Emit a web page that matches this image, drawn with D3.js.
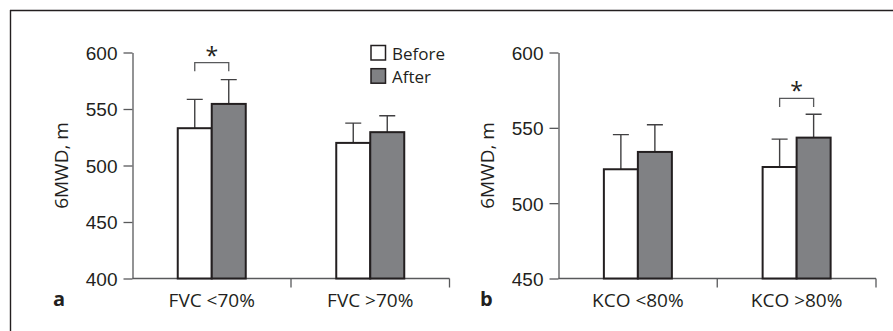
<!DOCTYPE html>
<html>
<head>
<meta charset="utf-8">
<script src="https://cdn.jsdelivr.net/npm/d3@7"></script>
<style>
  body { margin: 0; background: #fff; }
  svg { display: block; font-family: "Open Sans", sans-serif; }
  .tick text { font-size: 19px; fill: #231f20; }
</style>
</head>
<body>
<svg id="chart" width="893" height="331"></svg>
<script>
// panel a
var catsA = ['FVC <70%', 'FVC >70%'];
var beforeA = [533, 520];
var afterA = [554.5, 529.5];
var beforeErrA = [558.5, 537.5];
var afterErrA = [576, 544];
var ticksA = [400, 450, 500, 550, 600];

// panel b
var catsB = ['KCO <80%', 'KCO >80%'];
var beforeB = [522.5, 524];
var afterB = [534, 543.5];
var beforeErrB = [545.5, 542.5];
var afterErrB = [552, 559];
var ticksB = [450, 500, 550, 600];

var seriesNames = ['Before', 'After'];
var fills = ['#ffffff', '#808184'];

var svg = d3.select('#chart');

// frame: only top and left edge
svg.append('line').attr('x1', 10).attr('x2', 893).attr('y1', 10.5).attr('y2', 10.5)
  .attr('stroke', '#231f20').attr('stroke-width', 1.4);
svg.append('line').attr('x1', 10.5).attr('x2', 10.5).attr('y1', 10).attr('y2', 331)
  .attr('stroke', '#231f20').attr('stroke-width', 1.4);

function panel(opts) {
  var g = svg.append('g');
  var y = d3.scaleLinear().domain(opts.domain).range([278.5, 52.5]);
  var x0 = d3.scaleBand().domain(opts.cats).range([opts.left, opts.right]);
  var x1 = d3.scaleBand().domain(seriesNames).range([0, 68]);

  // y axis
  var yAxis = g.append('g').attr('class', 'y')
    .attr('transform', 'translate(' + opts.left + ',0)')
    .call(d3.axisLeft(y).tickValues(opts.ticks).tickSize(9).tickPadding(6).tickSizeOuter(0));
  yAxis.select('.domain').attr('stroke', '#58595b').attr('stroke-width', 1.3);
  yAxis.selectAll('.tick line').attr('stroke', '#58595b').attr('stroke-width', 1.3);
  yAxis.selectAll('.tick text').attr('dy', '0.36em');

  // x axis, ticks at band edges
  var xg = g.append('g').attr('transform', 'translate(0,' + y(opts.domain[0]) + ')');
  xg.append('line').attr('x1', opts.left).attr('x2', opts.right)
    .attr('stroke', '#58595b').attr('stroke-width', 1.3);
  var edges = opts.cats.map(function(c) { return x0(c) + x0.bandwidth(); });
  xg.selectAll('.edge').data(edges).enter().append('line')
    .attr('x1', function(d) { return d; }).attr('x2', function(d) { return d; })
    .attr('y1', 0).attr('y2', 9)
    .attr('stroke', '#58595b').attr('stroke-width', 1.3);
  xg.selectAll('.lab').data(opts.cats).enter().append('text')
    .attr('x', function(d) { return x0(d) + x0.bandwidth() / 2; })
    .attr('y', 28)
    .attr('text-anchor', 'middle')
    .attr('font-size', 19).attr('fill', '#231f20')
    .text(function(d) { return d; });

  // bars + error bars
  var rows = opts.cats.map(function(c, i) {
    return [
      { cat: c, s: 'Before', v: opts.before[i], e: opts.beforeErr[i] },
      { cat: c, s: 'After', v: opts.after[i], e: opts.afterErr[i] }
    ];
  });
  var grp = g.selectAll('.grp').data(rows).enter().append('g')
    .attr('transform', function(d) {
      return 'translate(' + (x0(d[0].cat) + x0.bandwidth() / 2 - 34) + ',0)';
    });
  grp.selectAll('.err').data(function(d) { return d; }).enter().append('path')
    .attr('d', function(d) {
      var cx = x1(d.s) + x1.bandwidth() / 2;
      return 'M' + cx + ',' + y(d.v) + 'V' + y(d.e) + 'M' + (cx - 8) + ',' + y(d.e) + 'H' + (cx + 8);
    })
    .attr('stroke', '#414042').attr('stroke-width', 1.4).attr('fill', 'none');
  grp.selectAll('rect').data(function(d) { return d; }).enter().append('rect')
    .attr('x', function(d) { return x1(d.s); })
    .attr('width', x1.bandwidth())
    .attr('y', function(d) { return y(d.v); })
    .attr('height', function(d) { return y(opts.domain[0]) - y(d.v); })
    .attr('fill', function(d, i) { return fills[i]; })
    .attr('stroke', '#231f20').attr('stroke-width', 2);

  // significance bracket
  var sigCat = opts.cats[opts.sig];
  var bx = x0(sigCat) + x0.bandwidth() / 2 - 34;
  var xa = bx + x1('Before') + x1.bandwidth() / 2;
  var xb = bx + x1('After') + x1.bandwidth() / 2;
  var top = y(opts.bracketVal);
  g.append('path')
    .attr('d', 'M' + xa + ',' + (top + 8.5) + 'V' + top + 'H' + xb + 'V' + (top + 8.5))
    .attr('stroke', '#58595b').attr('stroke-width', 1.3).attr('fill', 'none');
  g.append('text').attr('x', (xa + xb) / 2).attr('y', top + 1)
    .attr('text-anchor', 'middle').attr('font-size', 23).attr('fill', '#231f20')
    .text('*');

  // y title
  g.append('text')
    .attr('transform', 'translate(' + opts.titleX + ',' + (y(opts.domain[0]) + y(opts.domain[1])) / 2 + ') rotate(-90)')
    .attr('text-anchor', 'middle').attr('font-size', 19).attr('fill', '#231f20')
    .text('6MWD, m');

  // panel letter
  g.append('text').attr('x', opts.letterX).attr('y', 306)
    .attr('font-size', 20).attr('font-weight', 'bold').attr('fill', '#231f20')
    .text(opts.letter);
  return { x0: x0, y: y };
}

panel({
  cats: catsA, before: beforeA, after: afterA, beforeErr: beforeErrA, afterErr: afterErrA,
  domain: [400, 600], ticks: ticksA, left: 132.5, right: 449.5,
  sig: 0, bracketVal: 591, titleX: 68, letter: 'a', letterX: 53
});
panel({
  cats: catsB, before: beforeB, after: afterB, beforeErr: beforeErrB, afterErr: afterErrB,
  domain: [450, 600], ticks: ticksB, left: 558.5, right: 876,
  sig: 1, bracketVal: 569.5, titleX: 494, letter: 'b', letterX: 480
});

// legend
var legend = svg.append('g').attr('transform', 'translate(371,45.5)');
var li = legend.selectAll('g').data(seriesNames).enter().append('g')
  .attr('transform', function(d, i) { return 'translate(0,' + (i * 23.2) + ')'; });
li.append('rect').attr('width', 14.5).attr('height', 14.5)
  .attr('fill', function(d, i) { return fills[i]; })
  .attr('stroke', '#231f20').attr('stroke-width', 1.5);
li.append('text').attr('x', 21).attr('y', 14).attr('font-size', 17).attr('fill', '#231f20')
  .text(function(d) { return d; });
</script>
</body>
</html>
